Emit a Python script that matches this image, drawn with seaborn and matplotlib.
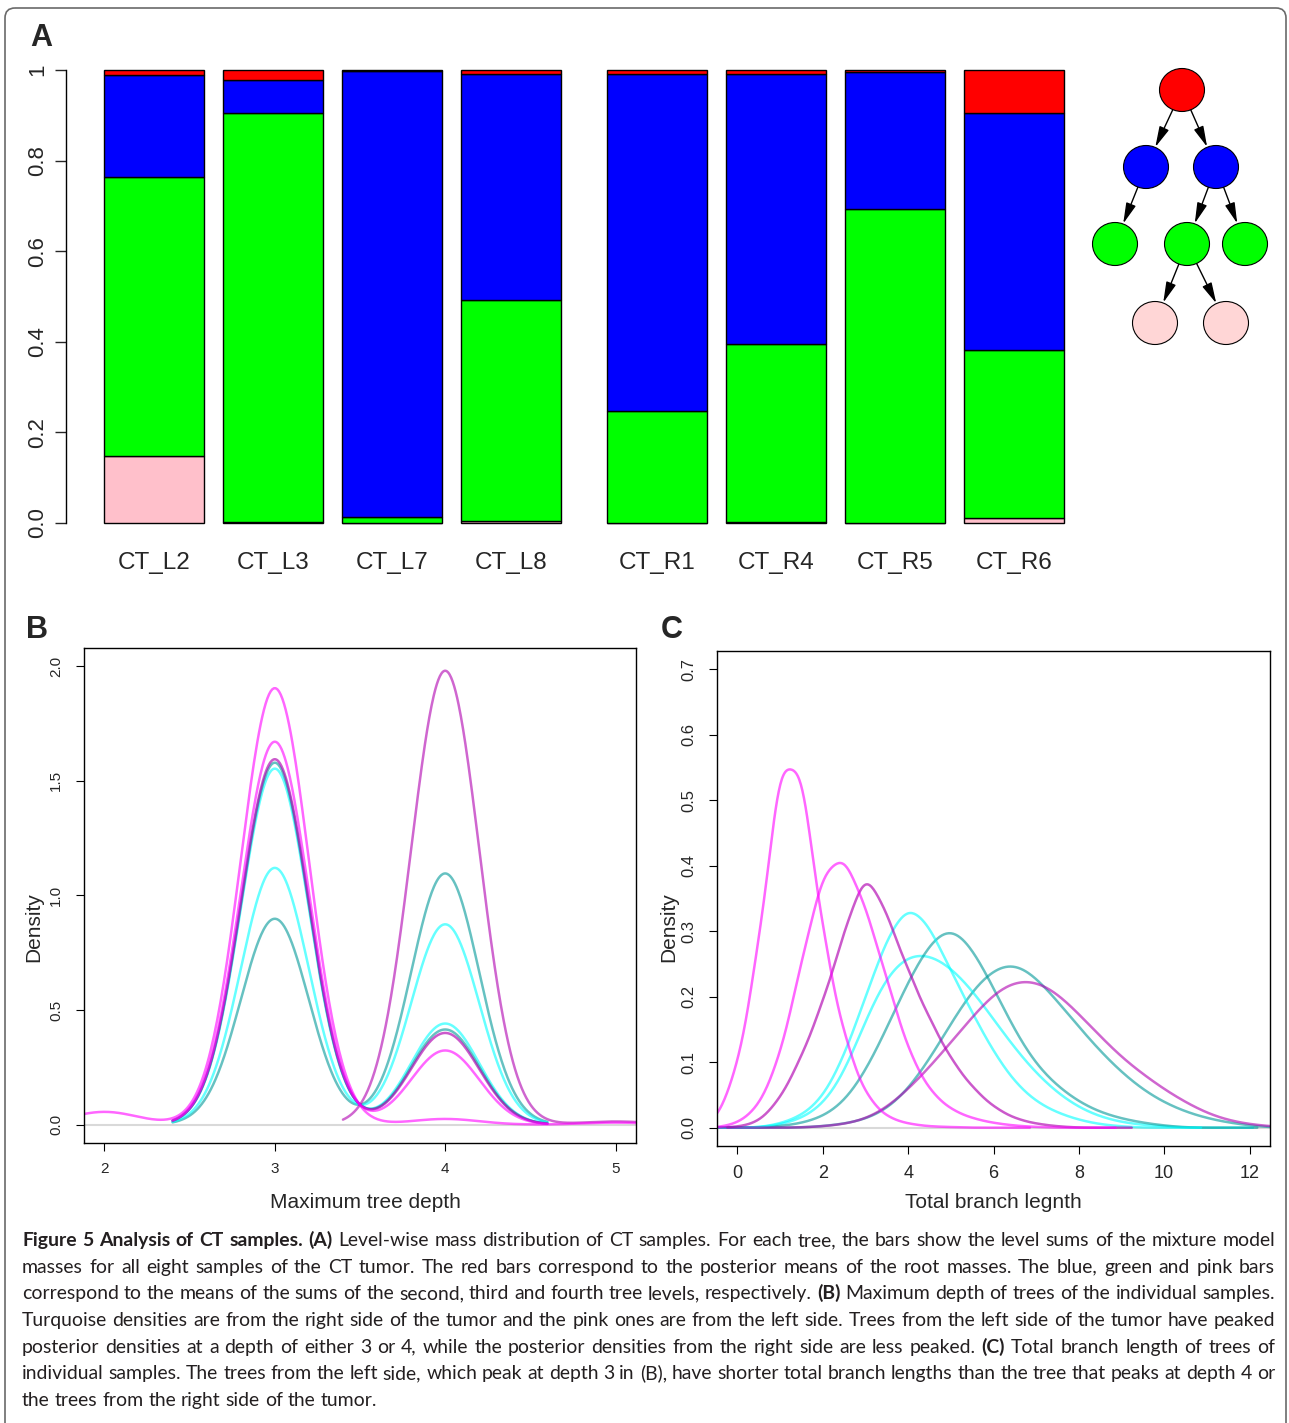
import numpy as np
import matplotlib
matplotlib.use("Agg")
import matplotlib.pyplot as plt
import matplotlib.font_manager as fm
from matplotlib.patches import Ellipse, FancyArrowPatch, FancyBboxPatch
import seaborn as sns

W, H = 1289, 1423

# ---- panel A: level-wise mass per sample (bottom -> top: level 4, level 3, level 2, root)
samples = ["CT_L2", "CT_L3", "CT_L7", "CT_L8", "CT_R1", "CT_R4", "CT_R5", "CT_R6"]
mass_level4 = [0.147, 0.002, 0.000, 0.005, 0.000, 0.002, 0.000, 0.011]
mass_level3 = [0.617, 0.903, 0.013, 0.487, 0.247, 0.393, 0.693, 0.371]
mass_level2 = [0.225, 0.073, 0.985, 0.499, 0.744, 0.596, 0.303, 0.523]
mass_root = [0.011, 0.022, 0.002, 0.009, 0.009, 0.009, 0.004, 0.095]
level_colors = ["#FFC0CB", "#00FF00", "#0000FF", "#FF0000"]

# tree sketch: node colours and edges (parent -> child)
node_colors = ["#FF0000", "#0000FF", "#0000FF", "#00FF00", "#00FF00", "#00FF00", "#FFD6D6", "#FFD6D6"]
node_xy = [(1182, 90), (1146, 167), (1216, 167), (1115, 244), (1187, 244), (1245, 244), (1155, 323), (1226, 323)]
tree_edges = [(0, 1), (0, 2), (1, 3), (2, 4), (2, 5), (4, 6), (4, 7)]

# ---- panel B: posterior mass over maximum tree depth
depth_left_a, w_left_a = [2, 3, 4, 5], [0.028, 0.955, 0.0125, 0.0045]
depth_left_b, w_left_b = [3, 4], [0.836, 0.162]
depth_left_c, w_left_c = [3, 4], [0.797, 0.200]
depth_left_d, w_left_d = [4, 5], [0.991, 0.007]
depth_right_a, w_right_a = [3, 4], [0.791, 0.208]
depth_right_b, w_right_b = [3, 4], [0.778, 0.221]
depth_right_c, w_right_c = [3, 4], [0.560, 0.437]
depth_right_d, w_right_d = [3, 4], [0.450, 0.549]

# ---- panel C: posterior mass over total branch length (binned at 0.5)
blen_left_a = [-0.5, 0.0, 0.5, 1.0, 1.5, 2.0, 2.5, 3.0, 3.5, 4.0, 4.5, 5.0]
dens_left_a = [0.010, 0.09, 0.28, 0.575, 0.565, 0.30, 0.14, 0.05, 0.016, 0.006, 0.002, 0.001]
blen_left_b = [0.0, 0.5, 1.0, 1.5, 2.0, 2.5, 3.0, 3.5, 4.0, 4.5, 5.0, 5.5, 6.0, 6.5, 7.0]
dens_left_b = [0.006, 0.03, 0.105, 0.25, 0.39, 0.415, 0.335, 0.225, 0.115, 0.055, 0.027, 0.014, 0.007, 0.003, 0.001]
blen_left_c = [0.0, 0.5, 1.0, 1.5, 2.0, 2.5, 3.0, 3.5, 4.0, 4.5, 5.0, 5.5, 6.0, 6.5, 7.0, 7.5]
dens_left_c = [0.001, 0.008, 0.044, 0.11, 0.195, 0.305, 0.41, 0.335, 0.245, 0.17, 0.107, 0.063, 0.032, 0.014, 0.006, 0.002]
blen_left_d = [2.0, 2.5, 3.0, 3.5, 4.0, 4.5, 5.0, 5.5, 6.0, 6.5, 7.0, 7.5, 8.0, 8.5, 9.0, 9.5, 10.0, 10.5, 11.0, 11.5, 12.0, 12.5]
dens_left_d = [0.002, 0.005, 0.012, 0.03, 0.06, 0.095, 0.135, 0.175, 0.215, 0.235, 0.235, 0.215, 0.18, 0.145, 0.11, 0.085, 0.06, 0.04, 0.022, 0.011, 0.005, 0.002]
blen_right_a = [1.0, 1.5, 2.0, 2.5, 3.0, 3.5, 4.0, 4.5, 5.0, 5.5, 6.0, 6.5, 7.0, 7.5, 8.0, 8.5, 9.0]
dens_right_a = [0.006, 0.018, 0.045, 0.11, 0.205, 0.298, 0.355, 0.318, 0.245, 0.18, 0.118, 0.07, 0.04, 0.023, 0.012, 0.005, 0.002]
blen_right_b = [1.0, 1.5, 2.0, 2.5, 3.0, 3.5, 4.0, 4.5, 5.0, 5.5, 6.0, 6.5, 7.0, 7.5, 8.0, 8.5, 9.0, 9.5, 10.0]
dens_right_b = [0.002, 0.006, 0.015, 0.035, 0.08, 0.145, 0.215, 0.272, 0.302, 0.265, 0.205, 0.14, 0.09, 0.06, 0.037, 0.022, 0.013, 0.007, 0.003]
blen_right_c = [1.0, 1.5, 2.0, 2.5, 3.0, 3.5, 4.0, 4.5, 5.0, 5.5, 6.0, 6.5, 7.0, 7.5, 8.0, 8.5, 9.0, 9.5, 10.0]
dens_right_c = [0.004, 0.013, 0.032, 0.078, 0.165, 0.235, 0.265, 0.265, 0.245, 0.21, 0.165, 0.12, 0.082, 0.052, 0.03, 0.016, 0.008, 0.004, 0.002]
blen_right_d = [2.0, 2.5, 3.0, 3.5, 4.0, 4.5, 5.0, 5.5, 6.0, 6.5, 7.0, 7.5, 8.0, 8.5, 9.0, 9.5, 10.0, 10.5, 11.0, 11.5, 12.0]
dens_right_d = [0.002, 0.005, 0.011, 0.024, 0.052, 0.096, 0.148, 0.198, 0.228, 0.24, 0.215, 0.18, 0.143, 0.108, 0.078, 0.053, 0.035, 0.022, 0.013, 0.007, 0.003]

MAGENTA, PURPLE, CYAN, TEAL = "#FF00FF", "#B000B0", "#00FFFF", "#009999"

caption = [
    [("Figure 5 Analysis of CT samples. (A)", True),
     ("Level-wise mass distribution of CT samples. For each tree, the bars show the level sums of the mixture model", False)],
    [("masses for all eight samples of the CT tumor. The red bars correspond to the posterior means of the root masses. The blue, green and pink bars", False)],
    [("correspond to the means of the sums of the second, third and fourth tree levels, respectively.", False), ("(B)", True),
     ("Maximum depth of trees of the individual samples.", False)],
    [("Turquoise densities are from the right side of the tumor and the pink ones are from the left side. Trees from the left side of the tumor have peaked", False)],
    [("posterior densities at a depth of either 3 or 4, while the posterior densities from the right side are less peaked.", False), ("(C)", True),
     ("Total branch length of trees of", False)],
    [("individual samples. The trees from the left side, which peak at depth 3 in (B), have shorter total branch lengths than the tree that peaks at depth 4 or", False)],
    [("the trees from the right side of the tumor.", False)],
]

sns.set_theme(style="white")
plt.rcParams["font.family"] = ["Liberation Sans", "DejaVu Sans"]
plt.rcParams["axes.edgecolor"] = "black"
plt.rcParams["axes.linewidth"] = 1.0

fig = plt.figure(figsize=(W / 100, H / 100), dpi=100)


def px_box(x0, y0, x1, y1):
    return [x0 / W, 1 - y1 / H, (x1 - x0) / W, (y1 - y0) / H]


# background axes in pixel coordinates (frame, panel letters, axis titles, caption)
bg = fig.add_axes([0, 0, 1, 1])
bg.set_xlim(0, W)
bg.set_ylim(H, 0)
bg.axis("off")
bg.add_patch(FancyBboxPatch((5, 8), 1281, 1460, boxstyle="round,pad=0,rounding_size=10",
                            fill=False, ec="#6a6a6a", lw=1.2))

# ---------------- panel A
axA = fig.add_axes(px_box(66, 70, 1075, 523))
idx = np.arange(len(samples))
pos = idx * 1.19 + np.where(idx >= 4, 0.27, 0.0)
bottom = np.zeros(len(samples))
for vals, col in zip([mass_level4, mass_level3, mass_level2, mass_root], level_colors):
    axA.bar(pos, vals, bottom=bottom, width=1.0, color=col, edgecolor="black", lw=1.0, clip_on=False)
    bottom += np.asarray(vals)
axA.set_xlim(-0.88, 9.21)
axA.set_ylim(0, 1)
for s in ["top", "right", "bottom"]:
    axA.spines[s].set_visible(False)
axA.set_xticks([])
axA.set_yticks([0, 0.2, 0.4, 0.6, 0.8, 1.0])
axA.set_yticklabels(["0.0", "0.2", "0.4", "0.6", "0.8", "1"], rotation=90, va="center")
axA.tick_params(axis="y", left=True, direction="out", length=8, width=1, labelsize=16, pad=5)
for p, name in zip(pos, samples):
    axA.text(p, -0.088, name, transform=axA.get_xaxis_transform(), ha="center", va="center",
             fontsize=17.5, clip_on=False)

# tree sketch
axT = fig.add_axes(px_box(1078, 55, 1289, 360))
axT.set_xlim(1078, 1289)
axT.set_ylim(360, 55)
axT.axis("off")
for (x, y), col in zip(node_xy, node_colors):
    axT.add_patch(Ellipse((x, y), 45, 43, fc=col, ec="black", lw=0.8, zorder=3))
for a, b in tree_edges:
    p, q = np.array(node_xy[a], float), np.array(node_xy[b], float)
    u = (q - p) / np.hypot(*(q - p))
    axT.add_patch(FancyArrowPatch(p + u * 21, q - u * 22,
                                  arrowstyle="-|>,head_length=0.9,head_width=0.22",
                                  mutation_scale=14, lw=1.0, color="black", shrinkA=0, shrinkB=0, zorder=2))


def density(ax, x, w, bw, color, alpha):
    # weighted KDE with a fixed absolute bandwidth
    x = np.asarray(x, float)
    w = np.asarray(w, float)
    factor = bw / np.sqrt(np.cov(x, aweights=w))
    sns.kdeplot(x=x, weights=w, bw_method=factor, cut=3, gridsize=500,
                color=color, alpha=alpha, lw=1.8, ax=ax)


def style_box(ax, xlab_size, ylab_size):
    for s in ax.spines.values():
        s.set_visible(True)
        s.set_color("black")
        s.set_linewidth(1.0)
    ax.tick_params(axis="both", direction="out", length=6, width=0.8, color="black",
                   bottom=True, left=True)
    ax.tick_params(axis="x", labelsize=xlab_size, pad=8)
    ax.tick_params(axis="y", labelsize=ylab_size, pad=9)
    for lab in ax.get_yticklabels():
        lab.set_rotation(90)
        lab.set_va("center")
    ax.set_xlabel("")
    ax.set_ylabel("")
    ax.grid(False)


# ---------------- panel B
axB = fig.add_axes(px_box(84, 648, 636, 1143))
axB.axhline(0, color="#D9D9D9", lw=1.5, zorder=0)
series_B = [
    (depth_right_d, w_right_d, TEAL, 0.6), (depth_right_c, w_right_c, CYAN, 0.6),
    (depth_right_b, w_right_b, CYAN, 0.6), (depth_right_a, w_right_a, TEAL, 0.6),
    (depth_left_d, w_left_d, PURPLE, 0.6), (depth_left_c, w_left_c, PURPLE, 0.65),
    (depth_left_b, w_left_b, MAGENTA, 0.6), (depth_left_a, w_left_a, MAGENTA, 0.6),
]
for d, w, c, a in series_B:
    density(axB, d, w, 0.2, c, a)
axB.set_xlim(1.88, 5.12)
axB.set_ylim(-0.08, 2.08)
axB.set_xticks([2, 3, 4, 5])
axB.set_yticks([0, 0.5, 1.0, 1.5, 2.0])
axB.set_yticklabels(["0.0", "0.5", "1.0", "1.5", "2.0"])
style_box(axB, 11, 11)

# ---------------- panel C
axC = fig.add_axes(px_box(717, 651, 1270, 1146))
axC.axhline(0, color="#D9D9D9", lw=1.5, zorder=0)
series_C = [
    (blen_right_d, dens_right_d, 0.42, TEAL, 0.6), (blen_right_c, dens_right_c, 0.38, CYAN, 0.6),
    (blen_right_b, dens_right_b, 0.38, TEAL, 0.6), (blen_right_a, dens_right_a, 0.33, CYAN, 0.6),
    (blen_left_d, dens_left_d, 0.42, PURPLE, 0.6), (blen_left_c, dens_left_c, 0.30, PURPLE, 0.65),
    (blen_left_b, dens_left_b, 0.30, MAGENTA, 0.6), (blen_left_a, dens_left_a, 0.28, MAGENTA, 0.6),
]
for b, d, bw, c, a in series_C:
    density(axC, b, d, bw, c, a)
axC.set_xlim(-0.48, 12.48)
axC.set_ylim(-0.028, 0.728)
axC.set_xticks([0, 2, 4, 6, 8, 10, 12])
axC.set_yticks([0, 0.1, 0.2, 0.3, 0.4, 0.5, 0.6, 0.7])
axC.set_yticklabels(["0.0", "0.1", "0.2", "0.3", "0.4", "0.5", "0.6", "0.7"])
style_box(axC, 13, 12)

# panel letters and axis titles
for letter, x, y in [("A", 41, 38), ("B", 37, 630), ("C", 672, 630)]:
    bg.text(x, y, letter, fontsize=22, fontweight="bold", ha="center", va="center")
bg.text(365, 1203, "Maximum tree depth", fontsize=15, ha="center", va="center")
bg.text(993, 1203, "Total branch legnth", fontsize=15, ha="center", va="center")
bg.text(34, 927, "Density", fontsize=15, rotation=90, ha="center", va="center")
bg.text(669, 927, "Density", fontsize=15, rotation=90, ha="center", va="center")

# ---------------- caption (justified lines)
names = {f.name for f in fm.fontManager.ttflist}
cap_font = next((n for n in ["Liberation Sans Narrow", "Lato", "Open Sans"] if n in names), "DejaVu Sans")
cap_color = "#231F20"
renderer = fig.canvas.get_renderer()


def text_width(s, bold, fs):
    t = bg.text(0, 0, s, fontsize=fs, family=cap_font, fontweight="bold" if bold else "normal")
    wpx = t.get_window_extent(renderer).width
    t.remove()
    return wpx


x_left, x_right = 22, 1275
line_words = [[(wd, bold) for txt, bold in parts for wd in txt.split()] for parts in caption]
fs0 = 12
space0 = text_width("a a", False, fs0) - text_width("aa", False, fs0)
natural = [sum(text_width(wd, b, fs0) for wd, b in words) + space0 * (len(words) - 1)
           for words in line_words[:-1]]
cap_fs = fs0 * (x_right - x_left) / max(natural)
space = space0 * cap_fs / fs0

for i, words in enumerate(line_words):
    y = 1246 + 26.67 * i
    widths = [text_width(wd, b, cap_fs) for wd, b in words]
    if i < len(line_words) - 1 and len(words) > 1:
        gap = (x_right - x_left - sum(widths)) / (len(words) - 1)
    else:
        gap = space
    x = x_left
    for (wd, b), wpx in zip(words, widths):
        bg.text(x, y, wd, fontsize=cap_fs, family=cap_font, fontweight="bold" if b else "normal",
                color=cap_color, ha="left", va="baseline")
        x += wpx + gap

fig.savefig("out.png", dpi=100)
